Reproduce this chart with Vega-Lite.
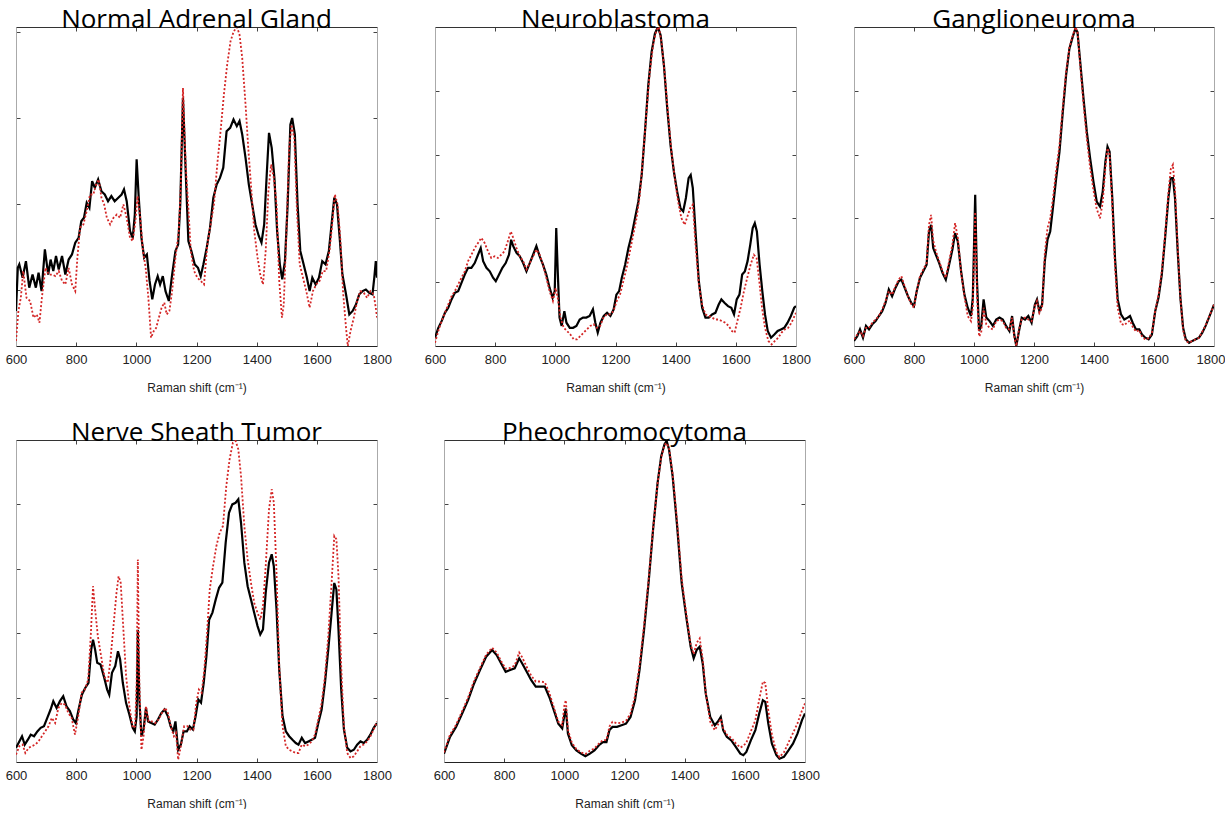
{
"$schema": "https://vega.github.io/schema/vega-lite/v6.json",
"background": "white",
"padding": {"left": 5, "top": 6, "right": 0, "bottom": 0},
"datasets": {
"nagA": [{"x":600,"v":0.110},{"x":606,"v":0.245},{"x":611,"v":0.256},{"x":622,"v":0.214},{"x":633,"v":0.266},{"x":644,"v":0.183},{"x":655,"v":0.224},{"x":666,"v":0.183},{"x":675,"v":0.230},{"x":685,"v":0.172},{"x":696,"v":0.303},{"x":707,"v":0.224},{"x":715,"v":0.271},{"x":724,"v":0.235},{"x":733,"v":0.282},{"x":742,"v":0.240},{"x":753,"v":0.282},{"x":764,"v":0.224},{"x":775,"v":0.271},{"x":786,"v":0.287},{"x":797,"v":0.324},{"x":808,"v":0.339},{"x":817,"v":0.391},{"x":826,"v":0.402},{"x":835,"v":0.449},{"x":844,"v":0.433},{"x":853,"v":0.517},{"x":862,"v":0.496},{"x":873,"v":0.522},{"x":884,"v":0.485},{"x":895,"v":0.475},{"x":906,"v":0.454},{"x":917,"v":0.470},{"x":928,"v":0.454},{"x":940,"v":0.465},{"x":951,"v":0.475},{"x":959,"v":0.491},{"x":968,"v":0.454},{"x":979,"v":0.360},{"x":988,"v":0.339},{"x":995,"v":0.412},{"x":1001,"v":0.585},{"x":1008,"v":0.465},{"x":1017,"v":0.339},{"x":1026,"v":0.277},{"x":1035,"v":0.287},{"x":1044,"v":0.204},{"x":1053,"v":0.146},{"x":1062,"v":0.193},{"x":1071,"v":0.219},{"x":1079,"v":0.193},{"x":1088,"v":0.219},{"x":1097,"v":0.172},{"x":1108,"v":0.141},{"x":1119,"v":0.224},{"x":1130,"v":0.298},{"x":1139,"v":0.318},{"x":1146,"v":0.444},{"x":1155,"v":0.778},{"x":1164,"v":0.548},{"x":1173,"v":0.329},{"x":1183,"v":0.298},{"x":1194,"v":0.256},{"x":1205,"v":0.245},{"x":1214,"v":0.219},{"x":1223,"v":0.256},{"x":1234,"v":0.308},{"x":1245,"v":0.371},{"x":1256,"v":0.465},{"x":1267,"v":0.506},{"x":1278,"v":0.527},{"x":1289,"v":0.559},{"x":1300,"v":0.673},{"x":1312,"v":0.684},{"x":1323,"v":0.710},{"x":1334,"v":0.689},{"x":1343,"v":0.705},{"x":1352,"v":0.663},{"x":1363,"v":0.590},{"x":1374,"v":0.506},{"x":1385,"v":0.444},{"x":1396,"v":0.381},{"x":1407,"v":0.345},{"x":1416,"v":0.324},{"x":1425,"v":0.381},{"x":1434,"v":0.548},{"x":1441,"v":0.668},{"x":1450,"v":0.621},{"x":1459,"v":0.527},{"x":1468,"v":0.360},{"x":1477,"v":0.256},{"x":1485,"v":0.209},{"x":1494,"v":0.266},{"x":1503,"v":0.444},{"x":1512,"v":0.694},{"x":1518,"v":0.715},{"x":1527,"v":0.663},{"x":1536,"v":0.444},{"x":1545,"v":0.298},{"x":1556,"v":0.256},{"x":1567,"v":0.214},{"x":1576,"v":0.172},{"x":1585,"v":0.214},{"x":1596,"v":0.193},{"x":1607,"v":0.214},{"x":1618,"v":0.266},{"x":1629,"v":0.256},{"x":1640,"v":0.298},{"x":1649,"v":0.381},{"x":1658,"v":0.465},{"x":1667,"v":0.444},{"x":1676,"v":0.339},{"x":1685,"v":0.224},{"x":1697,"v":0.162},{"x":1708,"v":0.099},{"x":1719,"v":0.110},{"x":1730,"v":0.130},{"x":1741,"v":0.162},{"x":1752,"v":0.172},{"x":1763,"v":0.177},{"x":1774,"v":0.167},{"x":1785,"v":0.162},{"x":1791,"v":0.214},{"x":1796,"v":0.266},{"x":1800,"v":0.214}],
"nagB": [{"x":600,"v":0.016},{"x":608,"v":0.110},{"x":616,"v":0.151},{"x":624,"v":0.235},{"x":635,"v":0.151},{"x":647,"v":0.141},{"x":658,"v":0.089},{"x":669,"v":0.099},{"x":678,"v":0.073},{"x":686,"v":0.151},{"x":698,"v":0.245},{"x":709,"v":0.224},{"x":720,"v":0.224},{"x":731,"v":0.219},{"x":742,"v":0.235},{"x":753,"v":0.204},{"x":764,"v":0.193},{"x":775,"v":0.245},{"x":786,"v":0.193},{"x":797,"v":0.172},{"x":804,"v":0.277},{"x":813,"v":0.371},{"x":824,"v":0.381},{"x":835,"v":0.423},{"x":846,"v":0.475},{"x":857,"v":0.475},{"x":866,"v":0.506},{"x":875,"v":0.522},{"x":884,"v":0.465},{"x":893,"v":0.444},{"x":902,"v":0.402},{"x":913,"v":0.381},{"x":924,"v":0.402},{"x":935,"v":0.412},{"x":946,"v":0.402},{"x":957,"v":0.444},{"x":968,"v":0.402},{"x":979,"v":0.339},{"x":988,"v":0.329},{"x":997,"v":0.391},{"x":1004,"v":0.470},{"x":1013,"v":0.402},{"x":1022,"v":0.298},{"x":1031,"v":0.245},{"x":1040,"v":0.151},{"x":1049,"v":0.026},{"x":1058,"v":0.047},{"x":1066,"v":0.057},{"x":1075,"v":0.089},{"x":1084,"v":0.120},{"x":1093,"v":0.136},{"x":1101,"v":0.099},{"x":1110,"v":0.110},{"x":1119,"v":0.172},{"x":1130,"v":0.277},{"x":1141,"v":0.360},{"x":1148,"v":0.506},{"x":1155,"v":0.809},{"x":1164,"v":0.569},{"x":1173,"v":0.433},{"x":1181,"v":0.298},{"x":1192,"v":0.235},{"x":1203,"v":0.214},{"x":1214,"v":0.204},{"x":1225,"v":0.193},{"x":1236,"v":0.318},{"x":1247,"v":0.381},{"x":1258,"v":0.444},{"x":1269,"v":0.569},{"x":1280,"v":0.673},{"x":1291,"v":0.788},{"x":1302,"v":0.882},{"x":1313,"v":0.955},{"x":1324,"v":0.987},{"x":1335,"v":0.999},{"x":1343,"v":0.976},{"x":1352,"v":0.903},{"x":1363,"v":0.757},{"x":1372,"v":0.621},{"x":1381,"v":0.506},{"x":1392,"v":0.360},{"x":1403,"v":0.277},{"x":1412,"v":0.224},{"x":1421,"v":0.193},{"x":1430,"v":0.298},{"x":1439,"v":0.485},{"x":1448,"v":0.569},{"x":1457,"v":0.527},{"x":1466,"v":0.444},{"x":1475,"v":0.204},{"x":1484,"v":0.089},{"x":1490,"v":0.130},{"x":1499,"v":0.360},{"x":1508,"v":0.621},{"x":1516,"v":0.694},{"x":1525,"v":0.652},{"x":1534,"v":0.423},{"x":1543,"v":0.256},{"x":1554,"v":0.214},{"x":1565,"v":0.172},{"x":1576,"v":0.120},{"x":1587,"v":0.172},{"x":1598,"v":0.193},{"x":1609,"v":0.204},{"x":1620,"v":0.235},{"x":1631,"v":0.235},{"x":1642,"v":0.298},{"x":1651,"v":0.381},{"x":1660,"v":0.475},{"x":1669,"v":0.444},{"x":1678,"v":0.339},{"x":1687,"v":0.172},{"x":1697,"v":0.057},{"x":1703,"v":0.000},{"x":1712,"v":0.047},{"x":1723,"v":0.089},{"x":1734,"v":0.141},{"x":1745,"v":0.172},{"x":1756,"v":0.167},{"x":1767,"v":0.151},{"x":1778,"v":0.172},{"x":1789,"v":0.162},{"x":1796,"v":0.120},{"x":1800,"v":0.089}],
"nbA": [{"x":600,"v":0.026},{"x":611,"v":0.057},{"x":622,"v":0.078},{"x":633,"v":0.104},{"x":644,"v":0.120},{"x":655,"v":0.146},{"x":666,"v":0.167},{"x":677,"v":0.172},{"x":688,"v":0.198},{"x":699,"v":0.224},{"x":710,"v":0.245},{"x":721,"v":0.245},{"x":732,"v":0.260},{"x":743,"v":0.286},{"x":752,"v":0.307},{"x":760,"v":0.266},{"x":771,"v":0.245},{"x":782,"v":0.234},{"x":793,"v":0.214},{"x":802,"v":0.203},{"x":813,"v":0.224},{"x":824,"v":0.245},{"x":835,"v":0.260},{"x":846,"v":0.286},{"x":853,"v":0.333},{"x":860,"v":0.313},{"x":871,"v":0.292},{"x":882,"v":0.281},{"x":893,"v":0.260},{"x":904,"v":0.234},{"x":915,"v":0.260},{"x":926,"v":0.286},{"x":937,"v":0.313},{"x":948,"v":0.281},{"x":959,"v":0.255},{"x":970,"v":0.224},{"x":981,"v":0.182},{"x":991,"v":0.151},{"x":998,"v":0.172},{"x":1003,"v":0.370},{"x":1008,"v":0.234},{"x":1014,"v":0.089},{"x":1021,"v":0.063},{"x":1030,"v":0.109},{"x":1037,"v":0.073},{"x":1048,"v":0.057},{"x":1059,"v":0.057},{"x":1070,"v":0.063},{"x":1081,"v":0.083},{"x":1092,"v":0.089},{"x":1103,"v":0.089},{"x":1114,"v":0.094},{"x":1125,"v":0.115},{"x":1133,"v":0.073},{"x":1141,"v":0.042},{"x":1150,"v":0.073},{"x":1161,"v":0.094},{"x":1172,"v":0.104},{"x":1183,"v":0.094},{"x":1194,"v":0.115},{"x":1203,"v":0.161},{"x":1212,"v":0.172},{"x":1221,"v":0.214},{"x":1232,"v":0.255},{"x":1243,"v":0.307},{"x":1254,"v":0.349},{"x":1265,"v":0.401},{"x":1276,"v":0.453},{"x":1287,"v":0.536},{"x":1298,"v":0.672},{"x":1309,"v":0.818},{"x":1320,"v":0.922},{"x":1331,"v":0.979},{"x":1341,"v":1.0},{"x":1350,"v":0.974},{"x":1361,"v":0.880},{"x":1372,"v":0.745},{"x":1383,"v":0.630},{"x":1394,"v":0.547},{"x":1405,"v":0.484},{"x":1416,"v":0.432},{"x":1425,"v":0.422},{"x":1434,"v":0.464},{"x":1443,"v":0.526},{"x":1450,"v":0.536},{"x":1457,"v":0.495},{"x":1466,"v":0.359},{"x":1477,"v":0.203},{"x":1488,"v":0.120},{"x":1499,"v":0.089},{"x":1510,"v":0.089},{"x":1521,"v":0.099},{"x":1532,"v":0.104},{"x":1543,"v":0.130},{"x":1552,"v":0.146},{"x":1563,"v":0.135},{"x":1574,"v":0.125},{"x":1585,"v":0.120},{"x":1594,"v":0.099},{"x":1603,"v":0.146},{"x":1612,"v":0.161},{"x":1621,"v":0.224},{"x":1630,"v":0.234},{"x":1639,"v":0.266},{"x":1648,"v":0.318},{"x":1656,"v":0.370},{"x":1663,"v":0.385},{"x":1670,"v":0.359},{"x":1679,"v":0.255},{"x":1688,"v":0.172},{"x":1697,"v":0.099},{"x":1706,"v":0.047},{"x":1717,"v":0.026},{"x":1728,"v":0.036},{"x":1739,"v":0.047},{"x":1750,"v":0.052},{"x":1761,"v":0.057},{"x":1772,"v":0.073},{"x":1783,"v":0.094},{"x":1794,"v":0.120},{"x":1800,"v":0.125}],
"nbB": [{"x":600,"v":0.010},{"x":611,"v":0.047},{"x":622,"v":0.078},{"x":633,"v":0.104},{"x":644,"v":0.130},{"x":655,"v":0.156},{"x":666,"v":0.172},{"x":677,"v":0.193},{"x":688,"v":0.214},{"x":699,"v":0.234},{"x":710,"v":0.266},{"x":721,"v":0.286},{"x":732,"v":0.307},{"x":743,"v":0.323},{"x":754,"v":0.339},{"x":765,"v":0.323},{"x":776,"v":0.297},{"x":787,"v":0.276},{"x":798,"v":0.281},{"x":809,"v":0.276},{"x":820,"v":0.286},{"x":831,"v":0.297},{"x":842,"v":0.328},{"x":852,"v":0.359},{"x":860,"v":0.339},{"x":871,"v":0.307},{"x":882,"v":0.281},{"x":893,"v":0.266},{"x":904,"v":0.240},{"x":915,"v":0.260},{"x":926,"v":0.281},{"x":937,"v":0.302},{"x":948,"v":0.286},{"x":959,"v":0.255},{"x":970,"v":0.214},{"x":981,"v":0.172},{"x":992,"v":0.141},{"x":1001,"v":0.182},{"x":1008,"v":0.151},{"x":1017,"v":0.089},{"x":1028,"v":0.057},{"x":1039,"v":0.047},{"x":1050,"v":0.036},{"x":1061,"v":0.021},{"x":1072,"v":0.021},{"x":1083,"v":0.031},{"x":1094,"v":0.042},{"x":1105,"v":0.052},{"x":1116,"v":0.063},{"x":1127,"v":0.068},{"x":1138,"v":0.057},{"x":1149,"v":0.063},{"x":1160,"v":0.089},{"x":1171,"v":0.099},{"x":1182,"v":0.099},{"x":1193,"v":0.109},{"x":1204,"v":0.141},{"x":1215,"v":0.161},{"x":1226,"v":0.203},{"x":1237,"v":0.245},{"x":1248,"v":0.297},{"x":1259,"v":0.349},{"x":1270,"v":0.401},{"x":1281,"v":0.474},{"x":1292,"v":0.599},{"x":1303,"v":0.734},{"x":1314,"v":0.859},{"x":1325,"v":0.943},{"x":1336,"v":0.990},{"x":1344,"v":1.0},{"x":1353,"v":0.953},{"x":1364,"v":0.849},{"x":1375,"v":0.724},{"x":1386,"v":0.609},{"x":1397,"v":0.526},{"x":1408,"v":0.453},{"x":1419,"v":0.401},{"x":1430,"v":0.380},{"x":1439,"v":0.406},{"x":1448,"v":0.432},{"x":1457,"v":0.443},{"x":1466,"v":0.318},{"x":1477,"v":0.193},{"x":1488,"v":0.130},{"x":1499,"v":0.099},{"x":1510,"v":0.094},{"x":1521,"v":0.089},{"x":1532,"v":0.083},{"x":1543,"v":0.083},{"x":1554,"v":0.078},{"x":1565,"v":0.073},{"x":1576,"v":0.063},{"x":1587,"v":0.047},{"x":1596,"v":0.042},{"x":1605,"v":0.078},{"x":1616,"v":0.120},{"x":1627,"v":0.172},{"x":1638,"v":0.214},{"x":1649,"v":0.255},{"x":1660,"v":0.286},{"x":1669,"v":0.276},{"x":1678,"v":0.203},{"x":1687,"v":0.120},{"x":1697,"v":0.057},{"x":1708,"v":0.016},{"x":1719,"v":0.005},{"x":1730,"v":0.016},{"x":1741,"v":0.026},{"x":1752,"v":0.042},{"x":1763,"v":0.052},{"x":1774,"v":0.057},{"x":1785,"v":0.073},{"x":1800,"v":0.104}],
"gnA": [{"x":600,"v":0.016},{"x":611,"v":0.031},{"x":620,"v":0.052},{"x":630,"v":0.026},{"x":640,"v":0.063},{"x":650,"v":0.052},{"x":661,"v":0.068},{"x":672,"v":0.078},{"x":683,"v":0.094},{"x":694,"v":0.109},{"x":705,"v":0.135},{"x":716,"v":0.177},{"x":727,"v":0.156},{"x":738,"v":0.182},{"x":749,"v":0.203},{"x":758,"v":0.208},{"x":769,"v":0.182},{"x":780,"v":0.156},{"x":791,"v":0.135},{"x":800,"v":0.125},{"x":809,"v":0.172},{"x":820,"v":0.214},{"x":831,"v":0.234},{"x":842,"v":0.255},{"x":850,"v":0.359},{"x":857,"v":0.380},{"x":864,"v":0.307},{"x":873,"v":0.286},{"x":884,"v":0.260},{"x":895,"v":0.229},{"x":906,"v":0.208},{"x":917,"v":0.255},{"x":928,"v":0.302},{"x":937,"v":0.354},{"x":946,"v":0.328},{"x":957,"v":0.234},{"x":968,"v":0.161},{"x":979,"v":0.120},{"x":990,"v":0.094},{"x":996,"v":0.151},{"x":1004,"v":0.474},{"x":1010,"v":0.203},{"x":1017,"v":0.047},{"x":1024,"v":0.063},{"x":1032,"v":0.146},{"x":1041,"v":0.089},{"x":1052,"v":0.078},{"x":1063,"v":0.063},{"x":1074,"v":0.083},{"x":1085,"v":0.089},{"x":1096,"v":0.083},{"x":1107,"v":0.063},{"x":1118,"v":0.047},{"x":1127,"v":0.094},{"x":1134,"v":0.036},{"x":1141,"v":0.0},{"x":1150,"v":0.047},{"x":1159,"v":0.089},{"x":1170,"v":0.083},{"x":1181,"v":0.094},{"x":1192,"v":0.073},{"x":1203,"v":0.130},{"x":1210,"v":0.146},{"x":1218,"v":0.109},{"x":1227,"v":0.130},{"x":1236,"v":0.266},{"x":1245,"v":0.333},{"x":1254,"v":0.359},{"x":1263,"v":0.432},{"x":1274,"v":0.526},{"x":1285,"v":0.609},{"x":1296,"v":0.734},{"x":1307,"v":0.849},{"x":1318,"v":0.932},{"x":1329,"v":0.969},{"x":1338,"v":0.995},{"x":1345,"v":0.984},{"x":1354,"v":0.891},{"x":1365,"v":0.776},{"x":1376,"v":0.672},{"x":1387,"v":0.589},{"x":1398,"v":0.516},{"x":1409,"v":0.453},{"x":1420,"v":0.437},{"x":1429,"v":0.484},{"x":1438,"v":0.578},{"x":1445,"v":0.625},{"x":1452,"v":0.609},{"x":1461,"v":0.464},{"x":1470,"v":0.276},{"x":1479,"v":0.146},{"x":1490,"v":0.099},{"x":1501,"v":0.083},{"x":1512,"v":0.089},{"x":1520,"v":0.094},{"x":1529,"v":0.073},{"x":1540,"v":0.052},{"x":1551,"v":0.052},{"x":1560,"v":0.036},{"x":1571,"v":0.026},{"x":1582,"v":0.021},{"x":1593,"v":0.036},{"x":1604,"v":0.109},{"x":1615,"v":0.151},{"x":1626,"v":0.224},{"x":1637,"v":0.339},{"x":1648,"v":0.464},{"x":1656,"v":0.526},{"x":1663,"v":0.526},{"x":1670,"v":0.464},{"x":1679,"v":0.297},{"x":1688,"v":0.151},{"x":1697,"v":0.057},{"x":1706,"v":0.021},{"x":1717,"v":0.010},{"x":1728,"v":0.016},{"x":1739,"v":0.021},{"x":1750,"v":0.026},{"x":1761,"v":0.042},{"x":1772,"v":0.063},{"x":1783,"v":0.089},{"x":1794,"v":0.115},{"x":1800,"v":0.130}],
"gnB": [{"x":600,"v":0.021},{"x":611,"v":0.036},{"x":620,"v":0.047},{"x":630,"v":0.031},{"x":640,"v":0.057},{"x":650,"v":0.057},{"x":661,"v":0.073},{"x":672,"v":0.083},{"x":683,"v":0.094},{"x":694,"v":0.115},{"x":705,"v":0.141},{"x":716,"v":0.172},{"x":727,"v":0.161},{"x":738,"v":0.187},{"x":749,"v":0.208},{"x":758,"v":0.219},{"x":769,"v":0.187},{"x":780,"v":0.156},{"x":791,"v":0.130},{"x":800,"v":0.120},{"x":809,"v":0.172},{"x":820,"v":0.219},{"x":831,"v":0.240},{"x":842,"v":0.260},{"x":850,"v":0.380},{"x":857,"v":0.411},{"x":864,"v":0.330},{"x":873,"v":0.297},{"x":884,"v":0.266},{"x":895,"v":0.234},{"x":906,"v":0.214},{"x":917,"v":0.266},{"x":928,"v":0.318},{"x":937,"v":0.385},{"x":946,"v":0.340},{"x":957,"v":0.230},{"x":968,"v":0.156},{"x":979,"v":0.094},{"x":990,"v":0.078},{"x":996,"v":0.120},{"x":1004,"v":0.420},{"x":1010,"v":0.160},{"x":1017,"v":0.030},{"x":1024,"v":0.042},{"x":1032,"v":0.120},{"x":1041,"v":0.068},{"x":1052,"v":0.057},{"x":1063,"v":0.052},{"x":1074,"v":0.078},{"x":1085,"v":0.083},{"x":1096,"v":0.078},{"x":1107,"v":0.057},{"x":1118,"v":0.052},{"x":1127,"v":0.089},{"x":1134,"v":0.031},{"x":1141,"v":0.0},{"x":1150,"v":0.052},{"x":1159,"v":0.083},{"x":1170,"v":0.089},{"x":1181,"v":0.083},{"x":1192,"v":0.078},{"x":1203,"v":0.125},{"x":1210,"v":0.141},{"x":1218,"v":0.104},{"x":1227,"v":0.120},{"x":1236,"v":0.290},{"x":1245,"v":0.370},{"x":1254,"v":0.400},{"x":1263,"v":0.460},{"x":1274,"v":0.550},{"x":1285,"v":0.630},{"x":1296,"v":0.750},{"x":1307,"v":0.860},{"x":1318,"v":0.935},{"x":1329,"v":0.972},{"x":1338,"v":1.0},{"x":1345,"v":0.985},{"x":1354,"v":0.880},{"x":1365,"v":0.760},{"x":1376,"v":0.650},{"x":1387,"v":0.560},{"x":1398,"v":0.490},{"x":1409,"v":0.430},{"x":1420,"v":0.400},{"x":1429,"v":0.450},{"x":1438,"v":0.560},{"x":1445,"v":0.620},{"x":1452,"v":0.600},{"x":1461,"v":0.440},{"x":1470,"v":0.250},{"x":1479,"v":0.120},{"x":1490,"v":0.070},{"x":1501,"v":0.065},{"x":1512,"v":0.075},{"x":1520,"v":0.080},{"x":1529,"v":0.060},{"x":1540,"v":0.045},{"x":1551,"v":0.050},{"x":1560,"v":0.030},{"x":1571,"v":0.020},{"x":1582,"v":0.025},{"x":1593,"v":0.040},{"x":1604,"v":0.110},{"x":1615,"v":0.160},{"x":1626,"v":0.235},{"x":1637,"v":0.350},{"x":1648,"v":0.480},{"x":1656,"v":0.555},{"x":1663,"v":0.568},{"x":1670,"v":0.490},{"x":1679,"v":0.310},{"x":1688,"v":0.150},{"x":1697,"v":0.050},{"x":1706,"v":0.015},{"x":1717,"v":0.010},{"x":1728,"v":0.016},{"x":1739,"v":0.021},{"x":1750,"v":0.026},{"x":1761,"v":0.045},{"x":1772,"v":0.065},{"x":1783,"v":0.090},{"x":1794,"v":0.115},{"x":1800,"v":0.130}],
"nstA": [{"x":600,"v":0.044},{"x":611,"v":0.064},{"x":620,"v":0.080},{"x":629,"v":0.054},{"x":640,"v":0.070},{"x":649,"v":0.085},{"x":660,"v":0.080},{"x":671,"v":0.095},{"x":682,"v":0.106},{"x":693,"v":0.111},{"x":704,"v":0.137},{"x":715,"v":0.163},{"x":724,"v":0.189},{"x":735,"v":0.168},{"x":746,"v":0.189},{"x":757,"v":0.204},{"x":768,"v":0.173},{"x":779,"v":0.158},{"x":790,"v":0.132},{"x":799,"v":0.121},{"x":808,"v":0.163},{"x":819,"v":0.209},{"x":830,"v":0.230},{"x":841,"v":0.246},{"x":850,"v":0.349},{"x":856,"v":0.380},{"x":863,"v":0.349},{"x":870,"v":0.308},{"x":881,"v":0.303},{"x":892,"v":0.266},{"x":903,"v":0.225},{"x":910,"v":0.209},{"x":919,"v":0.277},{"x":930,"v":0.298},{"x":939,"v":0.344},{"x":946,"v":0.319},{"x":955,"v":0.246},{"x":966,"v":0.183},{"x":977,"v":0.147},{"x":988,"v":0.106},{"x":995,"v":0.095},{"x":1001,"v":0.142},{"x":1005,"v":0.411},{"x":1010,"v":0.194},{"x":1017,"v":0.080},{"x":1024,"v":0.101},{"x":1032,"v":0.168},{"x":1039,"v":0.126},{"x":1050,"v":0.121},{"x":1061,"v":0.116},{"x":1072,"v":0.132},{"x":1083,"v":0.152},{"x":1094,"v":0.163},{"x":1105,"v":0.142},{"x":1114,"v":0.111},{"x":1123,"v":0.095},{"x":1130,"v":0.126},{"x":1139,"v":0.038},{"x":1148,"v":0.054},{"x":1157,"v":0.095},{"x":1168,"v":0.095},{"x":1177,"v":0.111},{"x":1188,"v":0.101},{"x":1197,"v":0.142},{"x":1206,"v":0.194},{"x":1215,"v":0.184},{"x":1224,"v":0.246},{"x":1233,"v":0.329},{"x":1242,"v":0.442},{"x":1253,"v":0.464},{"x":1264,"v":0.505},{"x":1275,"v":0.541},{"x":1286,"v":0.557},{"x":1297,"v":0.681},{"x":1308,"v":0.774},{"x":1319,"v":0.800},{"x":1330,"v":0.805},{"x":1339,"v":0.816},{"x":1348,"v":0.743},{"x":1359,"v":0.619},{"x":1370,"v":0.546},{"x":1381,"v":0.505},{"x":1392,"v":0.463},{"x":1403,"v":0.422},{"x":1412,"v":0.396},{"x":1421,"v":0.412},{"x":1430,"v":0.525},{"x":1441,"v":0.619},{"x":1450,"v":0.645},{"x":1457,"v":0.608},{"x":1466,"v":0.474},{"x":1475,"v":0.287},{"x":1486,"v":0.142},{"x":1497,"v":0.095},{"x":1508,"v":0.080},{"x":1519,"v":0.069},{"x":1530,"v":0.059},{"x":1539,"v":0.054},{"x":1550,"v":0.075},{"x":1561,"v":0.059},{"x":1572,"v":0.064},{"x":1583,"v":0.069},{"x":1594,"v":0.075},{"x":1605,"v":0.121},{"x":1616,"v":0.163},{"x":1627,"v":0.246},{"x":1638,"v":0.349},{"x":1649,"v":0.463},{"x":1658,"v":0.556},{"x":1665,"v":0.536},{"x":1672,"v":0.411},{"x":1681,"v":0.225},{"x":1690,"v":0.101},{"x":1701,"v":0.044},{"x":1712,"v":0.033},{"x":1723,"v":0.038},{"x":1734,"v":0.054},{"x":1745,"v":0.064},{"x":1756,"v":0.059},{"x":1767,"v":0.069},{"x":1778,"v":0.085},{"x":1789,"v":0.106},{"x":1800,"v":0.121}],
"nstB": [{"x":600,"v":0.023},{"x":611,"v":0.049},{"x":622,"v":0.054},{"x":631,"v":0.028},{"x":642,"v":0.044},{"x":653,"v":0.049},{"x":664,"v":0.054},{"x":675,"v":0.064},{"x":686,"v":0.080},{"x":697,"v":0.095},{"x":708,"v":0.111},{"x":719,"v":0.137},{"x":730,"v":0.121},{"x":741,"v":0.168},{"x":752,"v":0.183},{"x":763,"v":0.178},{"x":774,"v":0.152},{"x":785,"v":0.137},{"x":796,"v":0.085},{"x":807,"v":0.142},{"x":818,"v":0.215},{"x":829,"v":0.225},{"x":840,"v":0.256},{"x":849,"v":0.401},{"x":856,"v":0.546},{"x":863,"v":0.474},{"x":872,"v":0.391},{"x":883,"v":0.328},{"x":894,"v":0.266},{"x":905,"v":0.246},{"x":914,"v":0.318},{"x":925,"v":0.432},{"x":934,"v":0.525},{"x":941,"v":0.577},{"x":948,"v":0.557},{"x":957,"v":0.411},{"x":966,"v":0.266},{"x":977,"v":0.173},{"x":988,"v":0.106},{"x":996,"v":0.111},{"x":1001,"v":0.246},{"x":1005,"v":0.629},{"x":1010,"v":0.246},{"x":1017,"v":0.038},{"x":1024,"v":0.080},{"x":1032,"v":0.173},{"x":1041,"v":0.126},{"x":1052,"v":0.126},{"x":1063,"v":0.121},{"x":1074,"v":0.132},{"x":1085,"v":0.152},{"x":1096,"v":0.168},{"x":1105,"v":0.152},{"x":1116,"v":0.106},{"x":1125,"v":0.080},{"x":1132,"v":0.090},{"x":1139,"v":0.007},{"x":1148,"v":0.049},{"x":1159,"v":0.111},{"x":1170,"v":0.111},{"x":1179,"v":0.101},{"x":1190,"v":0.101},{"x":1199,"v":0.183},{"x":1208,"v":0.225},{"x":1217,"v":0.215},{"x":1226,"v":0.287},{"x":1235,"v":0.401},{"x":1244,"v":0.536},{"x":1255,"v":0.608},{"x":1266,"v":0.670},{"x":1277,"v":0.712},{"x":1288,"v":0.733},{"x":1299,"v":0.857},{"x":1310,"v":0.940},{"x":1321,"v":0.992},{"x":1330,"v":0.997},{"x":1339,"v":0.971},{"x":1348,"v":0.888},{"x":1359,"v":0.733},{"x":1370,"v":0.629},{"x":1381,"v":0.557},{"x":1392,"v":0.494},{"x":1403,"v":0.463},{"x":1412,"v":0.442},{"x":1421,"v":0.484},{"x":1430,"v":0.608},{"x":1441,"v":0.784},{"x":1450,"v":0.847},{"x":1457,"v":0.806},{"x":1466,"v":0.588},{"x":1475,"v":0.297},{"x":1486,"v":0.111},{"x":1497,"v":0.049},{"x":1508,"v":0.038},{"x":1519,"v":0.033},{"x":1530,"v":0.028},{"x":1539,"v":0.028},{"x":1550,"v":0.054},{"x":1561,"v":0.049},{"x":1572,"v":0.054},{"x":1583,"v":0.064},{"x":1594,"v":0.085},{"x":1605,"v":0.132},{"x":1616,"v":0.183},{"x":1627,"v":0.266},{"x":1638,"v":0.391},{"x":1649,"v":0.556},{"x":1658,"v":0.702},{"x":1665,"v":0.692},{"x":1672,"v":0.577},{"x":1681,"v":0.297},{"x":1690,"v":0.111},{"x":1701,"v":0.028},{"x":1712,"v":0.012},{"x":1723,"v":0.018},{"x":1734,"v":0.033},{"x":1745,"v":0.049},{"x":1756,"v":0.054},{"x":1767,"v":0.064},{"x":1778,"v":0.080},{"x":1789,"v":0.101},{"x":1800,"v":0.126}],
"pcA": [{"x":600,"v":0.026},{"x":620,"v":0.078},{"x":640,"v":0.109},{"x":660,"v":0.150},{"x":680,"v":0.192},{"x":700,"v":0.244},{"x":720,"v":0.286},{"x":740,"v":0.327},{"x":760,"v":0.348},{"x":775,"v":0.332},{"x":790,"v":0.306},{"x":805,"v":0.280},{"x":820,"v":0.286},{"x":835,"v":0.291},{"x":850,"v":0.322},{"x":860,"v":0.306},{"x":875,"v":0.280},{"x":890,"v":0.254},{"x":905,"v":0.234},{"x":920,"v":0.234},{"x":935,"v":0.234},{"x":950,"v":0.202},{"x":965,"v":0.161},{"x":980,"v":0.119},{"x":993,"v":0.104},{"x":1000,"v":0.145},{"x":1005,"v":0.166},{"x":1012,"v":0.088},{"x":1025,"v":0.052},{"x":1040,"v":0.036},{"x":1055,"v":0.026},{"x":1070,"v":0.018},{"x":1085,"v":0.026},{"x":1100,"v":0.036},{"x":1115,"v":0.052},{"x":1128,"v":0.062},{"x":1140,"v":0.062},{"x":1150,"v":0.099},{"x":1160,"v":0.109},{"x":1175,"v":0.109},{"x":1190,"v":0.114},{"x":1205,"v":0.119},{"x":1220,"v":0.140},{"x":1235,"v":0.192},{"x":1250,"v":0.286},{"x":1265,"v":0.410},{"x":1280,"v":0.556},{"x":1295,"v":0.722},{"x":1310,"v":0.867},{"x":1322,"v":0.950},{"x":1333,"v":0.987},{"x":1340,"v":0.997},{"x":1348,"v":0.971},{"x":1360,"v":0.888},{"x":1375,"v":0.732},{"x":1390,"v":0.556},{"x":1405,"v":0.452},{"x":1420,"v":0.358},{"x":1430,"v":0.322},{"x":1440,"v":0.348},{"x":1450,"v":0.358},{"x":1460,"v":0.306},{"x":1470,"v":0.213},{"x":1485,"v":0.140},{"x":1500,"v":0.114},{"x":1510,"v":0.125},{"x":1520,"v":0.140},{"x":1528,"v":0.099},{"x":1540,"v":0.078},{"x":1555,"v":0.067},{"x":1570,"v":0.047},{"x":1585,"v":0.026},{"x":1595,"v":0.021},{"x":1605,"v":0.031},{"x":1620,"v":0.067},{"x":1635,"v":0.099},{"x":1648,"v":0.151},{"x":1660,"v":0.192},{"x":1668,"v":0.187},{"x":1678,"v":0.119},{"x":1690,"v":0.057},{"x":1705,"v":0.021},{"x":1715,"v":0.010},{"x":1730,"v":0.016},{"x":1745,"v":0.036},{"x":1760,"v":0.057},{"x":1775,"v":0.088},{"x":1790,"v":0.130},{"x":1800,"v":0.151}],
"pcB": [{"x":600,"v":0.030},{"x":620,"v":0.085},{"x":640,"v":0.115},{"x":660,"v":0.157},{"x":680,"v":0.200},{"x":700,"v":0.252},{"x":720,"v":0.293},{"x":740,"v":0.333},{"x":760,"v":0.355},{"x":775,"v":0.340},{"x":790,"v":0.313},{"x":805,"v":0.290},{"x":820,"v":0.292},{"x":835,"v":0.300},{"x":850,"v":0.340},{"x":860,"v":0.325},{"x":875,"v":0.295},{"x":890,"v":0.268},{"x":905,"v":0.250},{"x":920,"v":0.250},{"x":935,"v":0.248},{"x":950,"v":0.215},{"x":965,"v":0.170},{"x":980,"v":0.125},{"x":993,"v":0.115},{"x":1000,"v":0.175},{"x":1005,"v":0.192},{"x":1012,"v":0.100},{"x":1025,"v":0.060},{"x":1040,"v":0.040},{"x":1055,"v":0.030},{"x":1070,"v":0.025},{"x":1085,"v":0.035},{"x":1100,"v":0.042},{"x":1115,"v":0.057},{"x":1128,"v":0.068},{"x":1140,"v":0.068},{"x":1150,"v":0.110},{"x":1160,"v":0.125},{"x":1175,"v":0.120},{"x":1190,"v":0.122},{"x":1205,"v":0.128},{"x":1220,"v":0.150},{"x":1235,"v":0.205},{"x":1250,"v":0.300},{"x":1265,"v":0.425},{"x":1280,"v":0.565},{"x":1295,"v":0.725},{"x":1310,"v":0.865},{"x":1322,"v":0.945},{"x":1333,"v":0.985},{"x":1340,"v":0.990},{"x":1348,"v":0.975},{"x":1360,"v":0.895},{"x":1375,"v":0.745},{"x":1390,"v":0.570},{"x":1405,"v":0.462},{"x":1420,"v":0.365},{"x":1430,"v":0.335},{"x":1440,"v":0.370},{"x":1450,"v":0.384},{"x":1460,"v":0.320},{"x":1470,"v":0.215},{"x":1485,"v":0.125},{"x":1500,"v":0.099},{"x":1510,"v":0.115},{"x":1520,"v":0.135},{"x":1528,"v":0.105},{"x":1540,"v":0.085},{"x":1555,"v":0.075},{"x":1570,"v":0.058},{"x":1585,"v":0.045},{"x":1595,"v":0.050},{"x":1605,"v":0.060},{"x":1620,"v":0.095},{"x":1635,"v":0.130},{"x":1648,"v":0.195},{"x":1660,"v":0.250},{"x":1668,"v":0.245},{"x":1678,"v":0.160},{"x":1690,"v":0.085},{"x":1705,"v":0.030},{"x":1715,"v":0.015},{"x":1730,"v":0.030},{"x":1745,"v":0.060},{"x":1760,"v":0.090},{"x":1775,"v":0.120},{"x":1790,"v":0.160},{"x":1800,"v":0.182}]
},
"vconcat": [
 {"hconcat": [
  {"title": "Normal Adrenal Gland", "width": 361, "height": 319,
   "layer": [
    {"data": {"name": "nagA"}, "mark": {"type": "line", "color": "#000", "strokeWidth": 2.2, "clip": true},
     "encoding": {"x": {"field": "x", "type": "quantitative", "scale": {"domain": [600, 1800], "nice": false, "zero": false}, "axis": {"orient": "bottom", "values": [600,800,1000,1200,1400,1600,1800], "title": "Raman shift (cm⁻¹)", "domainColor": "#222", "labelPadding": 11, "titlePadding": 16, "format": "d", "labelFlush": false}},
      "y": {"field": "v", "type": "quantitative", "scale": {"domain": [0, 1], "nice": false, "zero": false}, "axis": {"orient": "left", "values": [0.176,0.445,0.715,0.984], "labels": false, "title": null, "domainColor": "#aaa"}}}},
    {"data": {"name": "nagB"}, "mark": {"type": "line", "color": "#d42626", "strokeWidth": 1.8, "strokeDash": [2, 2], "clip": true},
     "encoding": {"x": {"field": "x", "type": "quantitative", "scale": {"domain": [600, 1800], "nice": false, "zero": false}, "axis": {"orient": "top", "values": [600,800,1000,1200,1400,1600,1800], "labels": false, "title": null, "domainColor": "#333"}},
      "y": {"field": "v", "type": "quantitative", "scale": {"domain": [0, 1], "nice": false, "zero": false}, "axis": {"orient": "right", "values": [0.176,0.445,0.715,0.984], "labels": false, "title": null, "domainColor": "#aaa"}}}}
   ],
   "resolve": {"scale": {"x": "independent", "y": "independent"}, "axis": {"x": "independent", "y": "independent"}}},
  {"title": "Neuroblastoma", "width": 361, "height": 319,
   "layer": [
    {"data": {"name": "nbA"}, "mark": {"type": "line", "color": "#000", "strokeWidth": 2.2, "clip": true},
     "encoding": {"x": {"field": "x", "type": "quantitative", "scale": {"domain": [600, 1800], "nice": false, "zero": false}, "axis": {"orient": "bottom", "values": [600,800,1000,1200,1400,1600,1800], "title": "Raman shift (cm⁻¹)", "domainColor": "#222", "labelPadding": 11, "titlePadding": 16, "format": "d", "labelFlush": false}},
      "y": {"field": "v", "type": "quantitative", "scale": {"domain": [0, 1], "nice": false, "zero": false}, "axis": {"orient": "left", "values": [0.2,0.4,0.6,0.8], "labels": false, "title": null, "domainColor": "#aaa"}}}},
    {"data": {"name": "nbB"}, "mark": {"type": "line", "color": "#d42626", "strokeWidth": 1.8, "strokeDash": [2, 2], "clip": true},
     "encoding": {"x": {"field": "x", "type": "quantitative", "scale": {"domain": [600, 1800], "nice": false, "zero": false}, "axis": {"orient": "top", "values": [600,800,1000,1200,1400,1600,1800], "labels": false, "title": null, "domainColor": "#333"}},
      "y": {"field": "v", "type": "quantitative", "scale": {"domain": [0, 1], "nice": false, "zero": false}, "axis": {"orient": "right", "values": [0.2,0.4,0.6,0.8], "labels": false, "title": null, "domainColor": "#aaa"}}}}
   ],
   "resolve": {"scale": {"x": "independent", "y": "independent"}, "axis": {"x": "independent", "y": "independent"}}},
  {"title": "Ganglioneuroma", "width": 360, "height": 319,
   "layer": [
    {"data": {"name": "gnA"}, "mark": {"type": "line", "color": "#000", "strokeWidth": 2.2, "clip": true},
     "encoding": {"x": {"field": "x", "type": "quantitative", "scale": {"domain": [600, 1800], "nice": false, "zero": false}, "axis": {"orient": "bottom", "values": [600,800,1000,1200,1400,1600,1800], "title": "Raman shift (cm⁻¹)", "domainColor": "#222", "labelPadding": 11, "titlePadding": 16, "format": "d", "labelFlush": true, "labelFlushOffset": 11}},
      "y": {"field": "v", "type": "quantitative", "scale": {"domain": [0, 1], "nice": false, "zero": false}, "axis": {"orient": "left", "values": [0.2,0.4,0.6,0.8], "labels": false, "title": null, "domainColor": "#aaa"}}}},
    {"data": {"name": "gnB"}, "mark": {"type": "line", "color": "#d42626", "strokeWidth": 1.8, "strokeDash": [2, 2], "clip": true},
     "encoding": {"x": {"field": "x", "type": "quantitative", "scale": {"domain": [600, 1800], "nice": false, "zero": false}, "axis": {"orient": "top", "values": [600,800,1000,1200,1400,1600,1800], "labels": false, "title": null, "domainColor": "#333"}},
      "y": {"field": "v", "type": "quantitative", "scale": {"domain": [0, 1], "nice": false, "zero": false}, "axis": {"orient": "right", "values": [0.2,0.4,0.6,0.8], "labels": false, "title": null, "domainColor": "#aaa"}}}}
   ],
   "resolve": {"scale": {"x": "independent", "y": "independent"}, "axis": {"x": "independent", "y": "independent"}}}
 ], "spacing": 58, "bounds": "flush"},
 {"hconcat": [
  {"title": "Nerve Sheath Tumor", "width": 361, "height": 322,
   "layer": [
    {"data": {"name": "nstA"}, "mark": {"type": "line", "color": "#000", "strokeWidth": 2.2, "clip": true},
     "encoding": {"x": {"field": "x", "type": "quantitative", "scale": {"domain": [600, 1800], "nice": false, "zero": false}, "axis": {"orient": "bottom", "values": [600,800,1000,1200,1400,1600,1800], "title": "Raman shift (cm⁻¹)", "domainColor": "#222", "labelPadding": 11, "titlePadding": 16, "format": "d", "labelFlush": false}},
      "y": {"field": "v", "type": "quantitative", "scale": {"domain": [0, 1], "nice": false, "zero": false}, "axis": {"orient": "left", "values": [0.2,0.4,0.6,0.8], "labels": false, "title": null, "domainColor": "#aaa"}}}},
    {"data": {"name": "nstB"}, "mark": {"type": "line", "color": "#d42626", "strokeWidth": 1.8, "strokeDash": [2, 2], "clip": true},
     "encoding": {"x": {"field": "x", "type": "quantitative", "scale": {"domain": [600, 1800], "nice": false, "zero": false}, "axis": {"orient": "top", "values": [600,800,1000,1200,1400,1600,1800], "labels": false, "title": null, "domainColor": "#333"}},
      "y": {"field": "v", "type": "quantitative", "scale": {"domain": [0, 1], "nice": false, "zero": false}, "axis": {"orient": "right", "values": [0.2,0.4,0.6,0.8], "labels": false, "title": null, "domainColor": "#aaa"}}}}
   ],
   "resolve": {"scale": {"x": "independent", "y": "independent"}, "axis": {"x": "independent", "y": "independent"}}},
  {"title": "Pheochromocytoma", "width": 361, "height": 322,
   "layer": [
    {"data": {"name": "pcA"}, "mark": {"type": "line", "color": "#000", "strokeWidth": 2.2, "clip": true},
     "encoding": {"x": {"field": "x", "type": "quantitative", "scale": {"domain": [600, 1800], "nice": false, "zero": false}, "axis": {"orient": "bottom", "values": [600,800,1000,1200,1400,1600,1800], "title": "Raman shift (cm⁻¹)", "domainColor": "#222", "labelPadding": 11, "titlePadding": 16, "format": "d", "labelFlush": false}},
      "y": {"field": "v", "type": "quantitative", "scale": {"domain": [0, 1], "nice": false, "zero": false}, "axis": {"orient": "left", "values": [0.2,0.4,0.6,0.8], "labels": false, "title": null, "domainColor": "#aaa"}}}},
    {"data": {"name": "pcB"}, "mark": {"type": "line", "color": "#d42626", "strokeWidth": 1.8, "strokeDash": [2, 2], "clip": true},
     "encoding": {"x": {"field": "x", "type": "quantitative", "scale": {"domain": [600, 1800], "nice": false, "zero": false}, "axis": {"orient": "top", "values": [600,800,1000,1200,1400,1600,1800], "labels": false, "title": null, "domainColor": "#333"}},
      "y": {"field": "v", "type": "quantitative", "scale": {"domain": [0, 1], "nice": false, "zero": false}, "axis": {"orient": "right", "values": [0.2,0.4,0.6,0.8], "labels": false, "title": null, "domainColor": "#aaa"}}}}
   ],
   "resolve": {"scale": {"x": "independent", "y": "independent"}, "axis": {"x": "independent", "y": "independent"}}}
 ], "spacing": 67, "bounds": "flush"}
],
"spacing": 26,
"config": {
 "view": {"stroke": null},
 "axis": {"grid": false, "tickSize": -4, "tickColor": "#444", "tickWidth": 1, "domainWidth": 1, "labelFont": "Liberation Sans", "titleFont": "Liberation Sans", "labelFontSize": 13, "titleFontSize": 12, "labelColor": "#222", "titleColor": "#222", "titleFontWeight": "normal"},
 "title": {"font": "Open Sans", "fontSize": 26, "fontWeight": "normal", "color": "#000", "anchor": "middle", "offset": -6, "baseline": "alphabetic"}
}
}
